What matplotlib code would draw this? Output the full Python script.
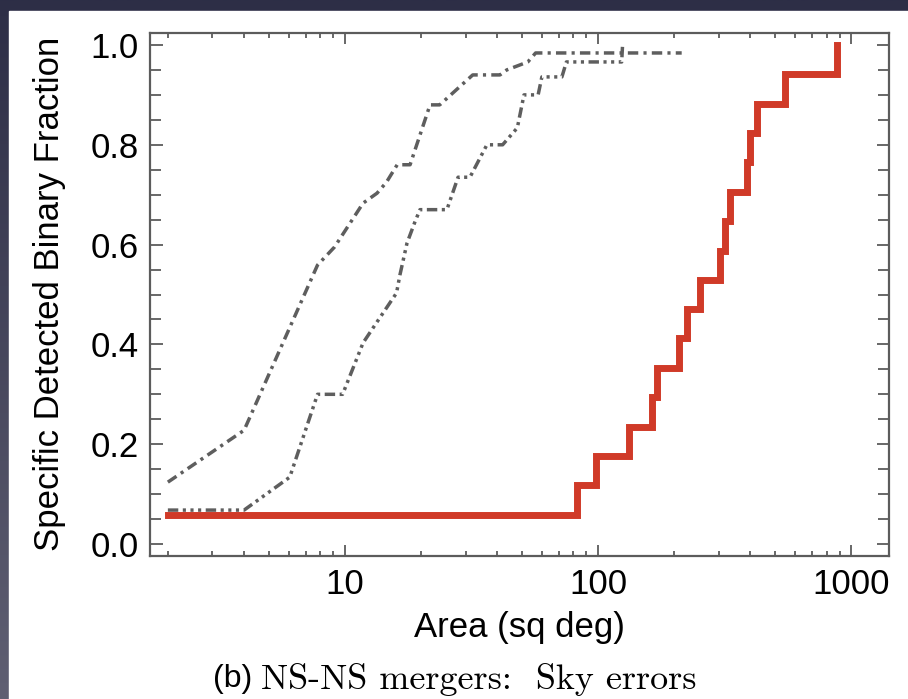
import numpy as np
import matplotlib
matplotlib.use("Agg")
import matplotlib.pyplot as plt
from matplotlib.ticker import MultipleLocator, LogLocator, NullFormatter
from matplotlib.patches import Rectangle

# red step curve (sky error area for NS-NS mergers)
red_x = [2.0, 82.6, 98.2, 132.6, 163, 171, 209, 225, 253, 303, 318, 333, 388, 399, 425, 548, 881]
red_y = [0.059, 0.118, 0.176, 0.235, 0.294, 0.353, 0.412, 0.471, 0.529, 0.588,
         0.647, 0.706, 0.765, 0.824, 0.882, 0.941, 1.0]

# grey dash-dot curve
dd_x = [2.0, 4.0, 7.8, 9.1, 11.8, 13.4, 14.6, 16.1, 18.1, 21.7, 23.7, 32, 41, 43.6, 52.8, 56.7, 214]
dd_y = [0.124, 0.228, 0.559, 0.595, 0.683, 0.703, 0.725, 0.76, 0.76, 0.88, 0.88, 0.94, 0.94,
        0.95, 0.966, 0.984, 0.984]

# grey dash-dot-dot-dot curve
d3_x = [2.0, 4.0, 6.06, 7.8, 9.8, 11.8, 13.4, 16.0, 16.5, 17.6, 18.9, 19.8, 25.3, 28, 31.2,
        36.4, 42, 48, 51, 58, 60, 72, 75, 124, 125]
d3_y = [0.068, 0.068, 0.134, 0.30, 0.30, 0.403, 0.445, 0.503, 0.539, 0.603, 0.645, 0.67, 0.67,
        0.735, 0.735, 0.80, 0.80, 0.834, 0.90, 0.90, 0.936, 0.936, 0.966, 0.966, 1.0]

yticks = [0.0, 0.2, 0.4, 0.6, 0.8, 1.0]
ytick_labels = ["0.0", "0.2", "0.4", "0.6", "0.8", "1.0"]
xticks = [10, 100, 1000]
xtick_labels = ["10", "100", "1000"]

fig = plt.figure(figsize=(9.08, 6.99), dpi=100)

# slide background: dark gradient border with a white panel
bg = fig.add_axes([0, 0, 1, 1], zorder=-10)
grad = np.linspace(0, 1, 256).reshape(-1, 1)
bg.imshow(grad, aspect="auto", extent=[0, 1, 0, 1],
          cmap=matplotlib.colors.LinearSegmentedColormap.from_list("bg", ["#5f5f72", "#2d2e46"]),
          origin="lower")
bg.add_patch(Rectangle((9 / 908, 0), 1, 1 - 11 / 699, color="white"))
bg.set_xlim(0, 1)
bg.set_ylim(0, 1)
bg.axis("off")

ax = fig.add_axes([150 / 908, 143 / 699, 739 / 908, 523 / 699])
ax.set_facecolor("none")

grey = "#5e5e5e"
ax.plot(dd_x, dd_y, color=grey, lw=2.5, dash_capstyle="butt",
        linestyle=(0, (3.0, 1.5, 0.9, 1.5)))
ax.plot(d3_x, d3_y, color=grey, lw=2.5, dash_capstyle="butt",
        linestyle=(0, (3.0, 1.3, 0.9, 1.3, 0.9, 1.3, 0.9, 1.3)))
ax.plot(red_x, red_y, color="#d03a28", lw=5.0, drawstyle="steps-post",
        solid_joinstyle="miter")

ax.set_xscale("log")
ax.set_xlim(1.7, 1410)
ax.set_ylim(-0.024, 1.024)

ax.set_xticks(xticks, labels=xtick_labels)
ax.xaxis.set_minor_locator(LogLocator(base=10, subs=np.arange(2, 10)))
ax.xaxis.set_minor_formatter(NullFormatter())
ax.set_yticks(yticks, labels=ytick_labels)
ax.yaxis.set_minor_locator(MultipleLocator(0.05))

axc = "#5c5c5c"
for s in ax.spines.values():
    s.set_color(axc)
    s.set_linewidth(1.6)
ax.tick_params(which="both", direction="in", top=True, right=True, color=axc, width=1.3)
ax.tick_params(axis="x", which="major", length=8, pad=9)
ax.tick_params(axis="x", which="minor", length=3.5)
ax.tick_params(axis="y", which="major", length=9, pad=8)
ax.tick_params(axis="y", which="minor", length=8)
for lab in ax.get_xticklabels() + ax.get_yticklabels():
    lab.set_fontfamily("Liberation Sans")
    lab.set_fontsize(25)
    lab.set_color("black")

fig.text(50 / 908, 1 - 294 / 699, "Specific Detected Binary Fraction", rotation=90,
         ha="center", va="center", fontsize=25, family="Liberation Sans")
fig.text(519 / 908, 1 - 628 / 699, "Area (sq deg)", ha="center", va="center",
         fontsize=25, family="Liberation Sans")

# caption: "(b)" in sans, rest in a LaTeX-like serif
cap_y = 1 - 679 / 699
t1 = fig.text(213 / 908, cap_y, "(b) ", ha="left", va="center", fontsize=23,
              family="Liberation Sans")
fig.canvas.draw()
bb = t1.get_window_extent()
fig.text(bb.x1 / 908, cap_y, "NS-NS mergers:  Sky errors", ha="left", va="center",
         fontsize=26, family="cmr10")

fig.savefig("out.png", dpi=100)
